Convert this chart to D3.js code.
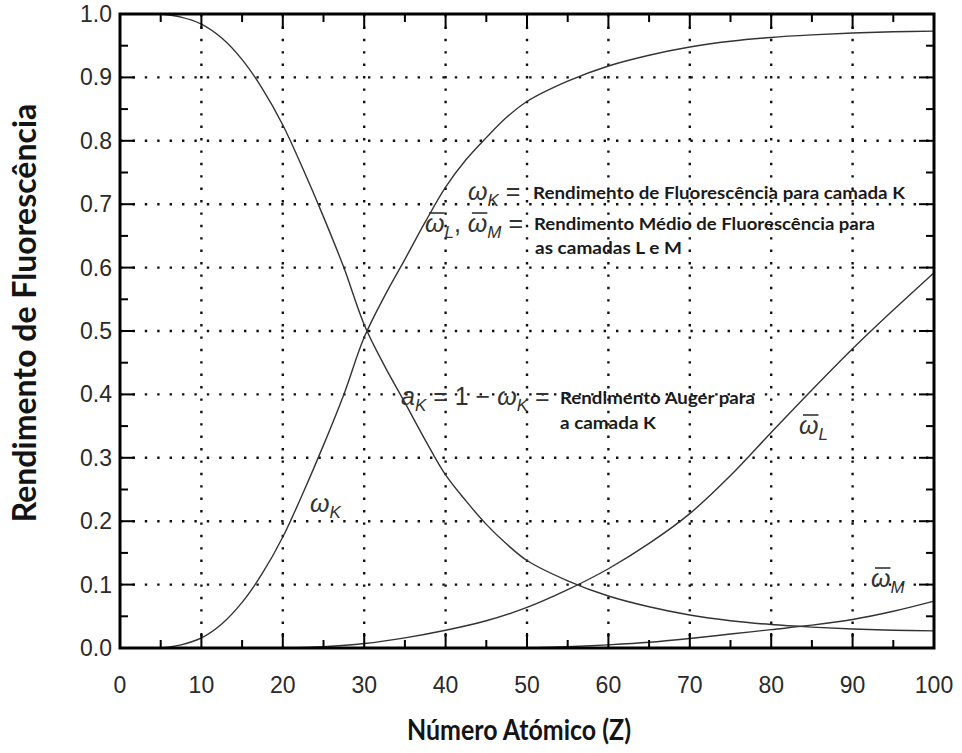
<!DOCTYPE html>
<html>
<head>
<meta charset="utf-8">
<script src="https://cdn.jsdelivr.net/npm/d3@7"></script>
<style>
  body { margin: 0; background: #fff; }
  svg { display: block; }
  .tick-label { font-family: "Liberation Sans", Arial, sans-serif; font-size: 23px; fill: #2a2a2a; }
  .title { font-family: Lato, "Open Sans", sans-serif; font-weight: bold; fill: #141414; }
  .note { font-family: Lato, "Open Sans", sans-serif; font-weight: bold; font-size: 17.5px; fill: #1a1a1a; }
  .math { font-family: "Liberation Sans", Arial, sans-serif; font-size: 25px; fill: #333; }
</style>
</head>
<body>
<div id="chart"></div>
<script>
// Fluorescence yields
const zK = [5, 7.5, 10, 12.5, 15, 17.5, 20, 22.5, 25, 27.5, 30, 32.5, 35, 37.5, 40, 42.5, 45, 47.5, 50, 55, 60, 65, 70, 75, 80, 85, 90, 95, 100];
const omegaK = [0, 0.005, 0.016, 0.038, 0.072, 0.118, 0.175, 0.245, 0.32, 0.40, 0.49, 0.555, 0.613, 0.672, 0.727, 0.770, 0.805, 0.837, 0.862, 0.894, 0.918, 0.935, 0.948, 0.957, 0.963, 0.967, 0.970, 0.972, 0.973];
const augerK = [1.0, 0.995, 0.984, 0.962, 0.928, 0.882, 0.825, 0.755, 0.68, 0.60, 0.51, 0.445, 0.387, 0.328, 0.273, 0.232, 0.195, 0.164, 0.138, 0.106, 0.082, 0.065, 0.052, 0.043, 0.037, 0.033, 0.030, 0.028, 0.027];

const zL = [20, 25, 30, 35, 40, 45, 50, 55, 60, 65, 70, 75, 80, 85, 90, 95, 100];
const omegaL = [0, 0.002, 0.007, 0.016, 0.028, 0.043, 0.064, 0.092, 0.125, 0.165, 0.212, 0.272, 0.340, 0.407, 0.472, 0.533, 0.592];

const zM = [50, 55, 60, 65, 70, 75, 80, 85, 90, 95, 100];
const omegaM = [0, 0.002, 0.005, 0.009, 0.015, 0.022, 0.029, 0.036, 0.045, 0.058, 0.074];

const xTicks = [0, 10, 20, 30, 40, 50, 60, 70, 80, 90, 100];
const yTicks = [0, 0.1, 0.2, 0.3, 0.4, 0.5, 0.6, 0.7, 0.8, 0.9, 1.0];

const W = 962, H = 753;
const margin = { top: 14, right: 28, bottom: 105, left: 120 };

const svg = d3.select("#chart").append("svg")
  .attr("width", W)
  .attr("height", H);

const x = d3.scaleLinear().domain([0, 100]).range([margin.left, W - margin.right]);
const y = d3.scaleLinear().domain([0, 1]).range([H - margin.bottom, margin.top]);

// dotted grid
const grid = svg.append("g")
  .attr("stroke", "#111")
  .attr("stroke-width", 2.4)
  .attr("stroke-dasharray", "2.4,10");
grid.selectAll(".vg").data(xTicks.slice(1, -1)).enter().append("line")
  .attr("x1", d => x(d)).attr("x2", d => x(d))
  .attr("y1", y(1)).attr("y2", y(0));
grid.selectAll(".hg").data(yTicks.slice(1, -1)).enter().append("line")
  .attr("x1", x(0)).attr("x2", x(100))
  .attr("y1", d => y(d)).attr("y2", d => y(d));

// curves
function draw(xs, ys) {
  const pts = xs.map((z, i) => [z, ys[i]]);
  const line = d3.line()
    .x(d => x(d[0]))
    .y(d => y(d[1]))
    .curve(d3.curveCatmullRom.alpha(0.5));
  svg.append("path")
    .datum(pts)
    .attr("d", line)
    .attr("fill", "none")
    .attr("stroke", "#333")
    .attr("stroke-width", 1.4);
}
draw(zK, omegaK);
draw(zK, augerK);
draw(zL, omegaL);
draw(zM, omegaM);

// axes, ticks inside on all four sides
const xMinor = d3.range(5, 100, 10);
const yMinor = d3.range(0.05, 1, 0.1);
const axes = svg.append("g").attr("stroke", "#000");
function ticksX(vals, len, w) {
  axes.selectAll(null).data(vals).enter().append("line")
    .attr("x1", d => x(d)).attr("x2", d => x(d))
    .attr("y1", y(0)).attr("y2", y(0) - len).attr("stroke-width", w);
  axes.selectAll(null).data(vals).enter().append("line")
    .attr("x1", d => x(d)).attr("x2", d => x(d))
    .attr("y1", y(1)).attr("y2", y(1) + len).attr("stroke-width", w);
}
function ticksY(vals, len, w) {
  axes.selectAll(null).data(vals).enter().append("line")
    .attr("y1", d => y(d)).attr("y2", d => y(d))
    .attr("x1", x(0)).attr("x2", x(0) + len).attr("stroke-width", w);
  axes.selectAll(null).data(vals).enter().append("line")
    .attr("y1", d => y(d)).attr("y2", d => y(d))
    .attr("x1", x(100)).attr("x2", x(100) - len).attr("stroke-width", w);
}
ticksX(xTicks.slice(1, -1), 15, 2);
ticksX(xMinor, 8, 2);
ticksY(yTicks.slice(1, -1), 15, 2);
ticksY(yMinor, 8, 2);

svg.append("rect")
  .attr("x", x(0)).attr("y", y(1))
  .attr("width", x(100) - x(0)).attr("height", y(0) - y(1))
  .attr("fill", "none").attr("stroke", "#000").attr("stroke-width", 3);

// tick labels
svg.selectAll(".xl").data(xTicks).enter().append("text")
  .attr("class", "tick-label")
  .attr("x", d => x(d)).attr("y", y(0) + 45)
  .attr("text-anchor", "middle")
  .text(d => d);
svg.selectAll(".yl").data(yTicks).enter().append("text")
  .attr("class", "tick-label")
  .attr("x", x(0) - 8).attr("y", d => y(d) + 8)
  .attr("text-anchor", "end")
  .text(d => d.toFixed(1));

// axis titles
svg.append("text").attr("class", "title")
  .attr("x", 407).attr("y", 740)
  .attr("font-size", 28)
  .attr("textLength", 224)
  .attr("lengthAdjust", "spacingAndGlyphs")
  .text("Número Atómico (Z)");
svg.append("text").attr("class", "title")
  .attr("transform", "translate(36,313) rotate(-90)")
  .attr("text-anchor", "middle")
  .attr("font-size", 32)
  .text("Rendimento de Fluorescência");

// math labels (omega with bar drawn as a short line)
function mathLabel(px, py, parts) {
  const t = svg.append("text").attr("class", "math").attr("x", px).attr("y", py);
  const bars = [];
  let idx = 0;
  parts.forEach(p => {
    const s = t.append("tspan").text(p.t);
    if (p.it) s.attr("font-style", "italic");
    if (p.sub) s.attr("font-size", 17).attr("dy", 6);
    if (p.up) s.attr("dy", -6);
    if (p.bar) bars.push(idx);
    idx += p.t.length;
  });
  bars.forEach(i => {
    const e = t.node().getExtentOfChar(i);
    svg.append("line")
      .attr("x1", e.x + 4).attr("x2", e.x + e.width)
      .attr("y1", py - 19).attr("y2", py - 19)
      .attr("stroke", "#333").attr("stroke-width", 1.6);
  });
}
mathLabel(468, 200, [{ t: "ω", it: 1 }, { t: "K", it: 1, sub: 1 }, { t: " =", up: 1 }]);
mathLabel(425, 232, [{ t: "ω", it: 1, bar: 1 }, { t: "L", it: 1, sub: 1 }, { t: ", ", up: 1 }, { t: "ω", it: 1, bar: 1 }, { t: "M", it: 1, sub: 1 }, { t: " =", up: 1 }]);
mathLabel(401, 405, [{ t: "a", it: 1 }, { t: "K", it: 1, sub: 1 }, { t: " = 1 − ", up: 1 }, { t: "ω", it: 1 }, { t: "K", it: 1, sub: 1 }, { t: " =", up: 1 }]);
mathLabel(310, 512, [{ t: "ω", it: 1 }, { t: "K", it: 1, sub: 1 }]);
mathLabel(799, 434, [{ t: "ω", it: 1, bar: 1 }, { t: "L", it: 1, sub: 1 }]);
mathLabel(871, 587, [{ t: "ω", it: 1, bar: 1 }, { t: "M", it: 1, sub: 1 }]);

// notes
const notes = [
  { t: "Rendimento de Fluorescência para camada K", x: 533, y: 199, w: 372 },
  { t: "Rendimento Médio de Fluorescência para", x: 534, y: 230, w: 341 },
  { t: "as camadas L e M", x: 535, y: 254, w: 147 },
  { t: "Rendimento Auger para", x: 560, y: 404, w: 195 },
  { t: "a camada K", x: 560, y: 429, w: 96 }
];
svg.selectAll(".note").data(notes).enter().append("text")
  .attr("class", "note")
  .attr("x", d => d.x).attr("y", d => d.y)
  .attr("textLength", d => d.w)
  .attr("lengthAdjust", "spacingAndGlyphs")
  .text(d => d.t);
</script>
</body>
</html>
